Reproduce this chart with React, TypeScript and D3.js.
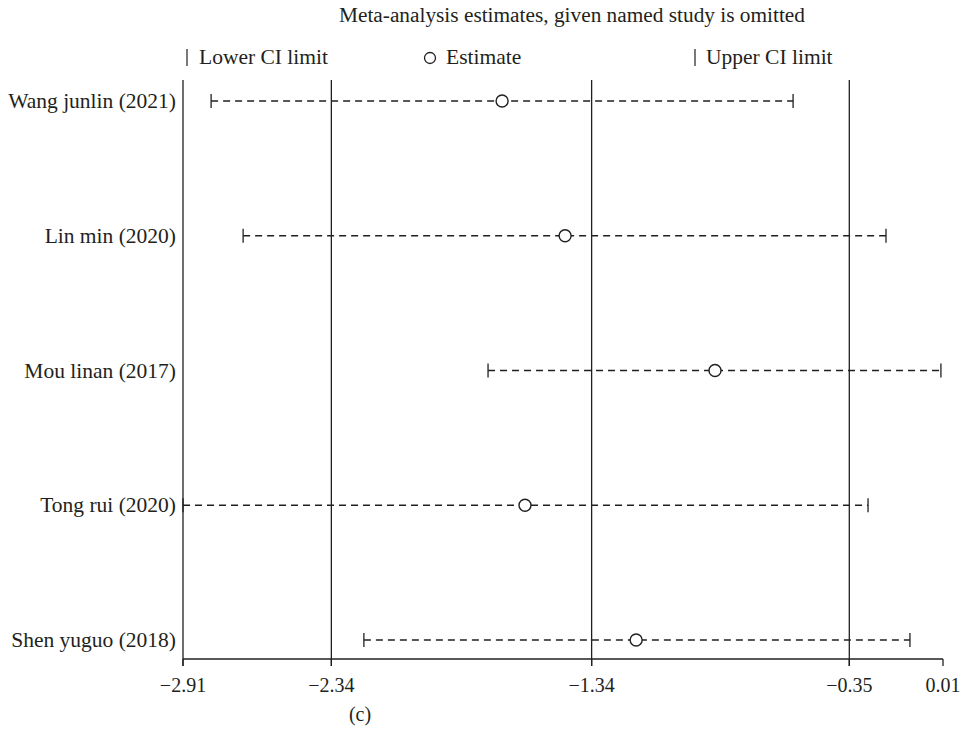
import React from "react";
import * as d3 from "d3";

const studies = ["Wang junlin (2021)", "Lin min (2020)", "Mou linan (2017)", "Tong rui (2020)", "Shen yuguo (2018)"];
const lowerCI = [-2.802, -2.679, -1.738, -2.91, -2.215];
const estimates = [-1.684, -1.442, -0.866, -1.596, -1.169];
const upperCI = [-0.566, -0.209, 0.002, -0.278, -0.117];
const tickValues = [-2.91, -2.34, -1.34, -0.35, 0.01];
const refLines = [-2.34, -1.34, -0.35];

export default function App() {
  const W = 967, H = 738;
  const x = d3.scaleLinear().domain([-2.91, 0.01]).range([183, 943]);
  const y = d3.scalePoint<string>().domain(studies).range([101, 640]);
  const axisY = 659;
  const top = 80;
  const font = "'Liberation Serif', 'Times New Roman', serif";
  const col = "#231f20";
  const fs = 20;
  const fl = 21.5;
  return (
    <div style={{ position: "absolute", left: 0, top: 0 }}>
      <svg width={W} height={H} style={{ display: "block", background: "#fff" }} fontFamily={font}>
        <text x={572} y={22} textAnchor="middle" fontSize={fs} fill={col} textLength={466} lengthAdjust="spacingAndGlyphs">
          Meta-analysis estimates, given named study is omitted
        </text>
        {/* legend */}
        <line x1={187} x2={187} y1={49} y2={66} stroke={col} strokeWidth={1.2} />
        <text x={199} y={64} fontSize={fl} fill={col}>Lower CI limit</text>
        <circle cx={430} cy={58} r={5.5} fill="none" stroke={col} strokeWidth={1.3} />
        <text x={446} y={64} fontSize={fl} fill={col}>Estimate</text>
        <line x1={695} x2={695} y1={49} y2={66} stroke={col} strokeWidth={1.2} />
        <text x={706} y={64} fontSize={fl} fill={col}>Upper CI limit</text>

        {/* left axis line and reference lines */}
        <line x1={x(-2.91)} x2={x(-2.91)} y1={top} y2={axisY + 7} stroke={col} strokeWidth={1.3} />
        {refLines.map((v) => (
          <line key={v} x1={x(v)} x2={x(v)} y1={top} y2={axisY + 7} stroke={col} strokeWidth={1.3} />
        ))}
        {/* x axis */}
        <line x1={x(-2.91)} x2={x(0.01)} y1={axisY} y2={axisY} stroke={col} strokeWidth={1.3} />
        {tickValues.map((v) => (
          <g key={v}>
            <line x1={x(v)} x2={x(v)} y1={axisY} y2={axisY + 7} stroke={col} strokeWidth={1.3} />
            <text x={x(v)} y={axisY + 33} textAnchor="middle" fontSize={fs} fill={col}>
              {v < 0 ? "\u2212" + Math.abs(v).toFixed(2) : v.toFixed(2)}
            </text>
          </g>
        ))}
        <text x={360} y={721} textAnchor="middle" fontSize={fs} fill={col}>(c)</text>

        {/* rows */}
        {studies.map((s, i) => {
          const yy = y(s)!;
          return (
            <g key={s}>
              <text x={176} y={yy + 7} textAnchor="end" fontSize={fl} fill={col}>{s}</text>
              <line x1={x(lowerCI[i])} x2={x(upperCI[i])} y1={yy} y2={yy} stroke={col} strokeWidth={1.3} strokeDasharray="7,5" />
              <line x1={x(lowerCI[i])} x2={x(lowerCI[i])} y1={yy - 7} y2={yy + 7} stroke={col} strokeWidth={1.3} />
              <line x1={x(upperCI[i])} x2={x(upperCI[i])} y1={yy - 7} y2={yy + 7} stroke={col} strokeWidth={1.3} />
              <circle cx={x(estimates[i])} cy={yy} r={6} fill="#fff" stroke={col} strokeWidth={1.4} />
            </g>
          );
        })}
      </svg>
    </div>
  );
}
